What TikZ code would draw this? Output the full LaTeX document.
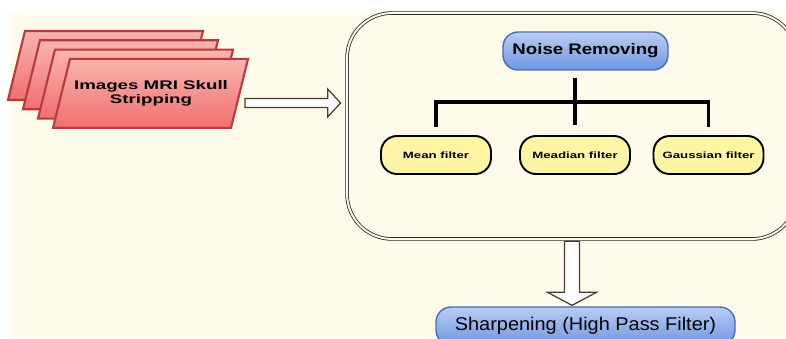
\documentclass[tikz,border=0pt]{standalone}
\usepackage{fontspec}
\setmainfont{Liberation Sans}
\newfontfamily\imgfont[FakeStretch=1.5]{Liberation Sans}
\newfontfamily\noisefont[FakeStretch=1.22]{Liberation Sans}
\newfontfamily\sharpfont[FakeStretch=1.08]{Liberation Sans}
\newfontfamily\filterfont[FakeStretch=1.45]{Liberation Sans}
\usetikzlibrary{calc}

\definecolor{cream}{HTML}{FFFBEA}
\definecolor{pinklight}{HTML}{FAB4B0}
\definecolor{pinkdark}{HTML}{EF6F6F}
\definecolor{pinkedge}{HTML}{B93A3A}
\definecolor{bluelight}{HTML}{B8CDF5}
\definecolor{bluedark}{HTML}{7096E0}
\definecolor{blueedge}{HTML}{4B6DB0}
\definecolor{yellowfill}{HTML}{FFF5A5}
\definecolor{arrowedge}{HTML}{4A3A30}

\tikzset{
  layer/.style={draw=pinkedge, line width=1.2pt, top color=pinklight, bottom color=pinkdark},
  stagebox/.style={draw=black!85, line width=0.45pt, double=cream, double distance=1.1pt,
    rounded corners=0.9cm, inner sep=0pt},
  bluebox/.style={draw=blueedge, line width=0.8pt, top color=bluelight, bottom color=bluedark,
    rounded corners=0.3cm, inner sep=0pt, minimum height=0.76cm},
  filterbox/.style={draw=black, line width=1.1pt, fill=yellowfill, rounded corners=0.32cm,
    inner sep=0pt, minimum width=2.2cm, minimum height=0.76cm,
    font=\filterfont\bfseries\fontsize{5.2}{6}\selectfont},
  tree/.style={line width=2.2pt},
  hollow/.style={draw=arrowedge, line width=0.7pt, fill=white, line join=miter},
}

\begin{document}
\begin{tikzpicture}[x=0.02cm, y=-0.02cm]
  \useasboundingbox (0,0) rectangle (786,338);
  \clip (0,0) rectangle (786,338);
  \fill[white] (0,0) rectangle (786,338);
  \fill[cream] (10,13) rectangle (786,338);

  % noise removing stage
  \node[stagebox, minimum width=9cm, minimum height=4.52cm] (box) at (572,126) {};

  % stack of input images
  \foreach \i in {0,...,3}
    \draw[layer] ($(25,31)+(15*\i,9.3*\i)$) -- ++(178,0) -- ++(-17,69) -- ++(-178,0) -- cycle;
  \node[align=center, font=\imgfont\bfseries\fontsize{7.1}{8}\selectfont] (img) at (151,93.5)
    {Images MRI Skull\\Stripping};

  \node[bluebox, minimum width=3.3cm, font=\noisefont\bfseries\fontsize{8.7}{10}\selectfont]
    (noise) at (585.5,51) {Noise Removing};
  \node[filterbox] (mean) at (436,155) {Mean filter};
  \node[filterbox] (median) at (575,155) {Meadian filter};
  \node[filterbox] (gauss) at (708.5,155) {Gaussian filter};
  \node[bluebox, minimum width=5.98cm, font=\sharpfont\fontsize{10.5}{12}\selectfont]
    (sharp) at (585.5,326) {Sharpening (High Pass Filter)};

  % tree
  \coordinate (bar) at (0,102);
  \draw[tree] ($(mean.north)+(0,-8)$) -- (mean.north |- bar) -- (gauss.north |- bar)
    -- ($(gauss.north)+(0,-8)$);
  \draw[tree] ($(noise.south -| median.north)+(0,7)$) -- ($(median.north)+(0,-10)$);

  % hollow arrows
  \coordinate (arrS) at (245,103);
  \coordinate (arrT) at ($(box.west |- arrS)+(-6,0)$);
  \draw[hollow] ($(arrS)+(0,-4.5)$) -- ($(arrT)+(-13,-4.5)$) -- ($(arrT)+(-13,-14)$) -- (arrT)
    -- ($(arrT)+(-13,14)$) -- ($(arrT)+(-13,4.5)$) -- ($(arrS)+(0,4.5)$) -- cycle;

  \coordinate (dnS) at ($(box.south)+(0,2)$);
  \coordinate (dnT) at ($(box.south |- sharp.north)+(0,-1)$);
  \draw[hollow] ($(dnS)+(-7.5,0)$) -- ($(dnT)+(-7.5,-13)$) -- ($(dnT)+(-24.5,-13)$) -- (dnT)
    -- ($(dnT)+(24.5,-13)$) -- ($(dnT)+(7.5,-13)$) -- ($(dnS)+(7.5,0)$) -- cycle;
\end{tikzpicture}
\end{document}
